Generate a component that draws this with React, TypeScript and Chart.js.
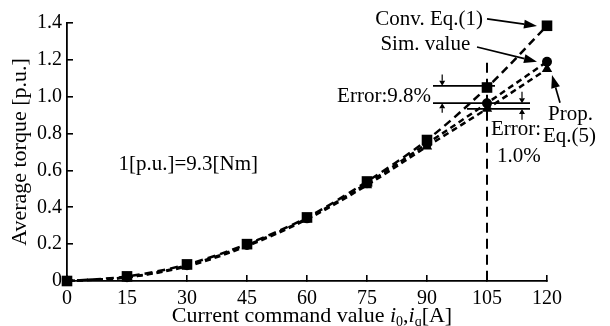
import React, { useEffect, useRef } from "react";
import { Chart, registerables } from "chart.js";

Chart.register(...registerables);

// ---- data ----
const currents = [0, 15, 30, 45, 60, 75, 90, 105, 120];
const convEq1 = [0, 0.025, 0.09, 0.2, 0.345, 0.54, 0.765, 1.05, 1.385];
const simValue = [0, 0.02, 0.085, 0.195, 0.34, 0.53, 0.745, 0.965, 1.19];
const propEq5 = [0, 0.02, 0.08, 0.19, 0.335, 0.52, 0.73, 0.935, 1.15];
const xTicks = [0, 15, 30, 45, 60, 75, 90, 105, 120];
const yTicks = [0, 0.2, 0.4, 0.6, 0.8, 1.0, 1.2, 1.4];

const FAMILY = '"Liberation Serif", "Times New Roman", serif';
const FONT = `21px ${FAMILY}`;

function arrow(ctx: CanvasRenderingContext2D, x1: number, y1: number, x2: number, y2: number, len: number, hw: number, lw: number) {
  const ang = Math.atan2(y2 - y1, x2 - x1);
  const bx = x2 - Math.cos(ang) * len;
  const by = y2 - Math.sin(ang) * len;
  ctx.lineWidth = lw;
  ctx.beginPath();
  ctx.moveTo(x1, y1);
  ctx.lineTo(bx, by);
  ctx.stroke();
  ctx.beginPath();
  ctx.moveTo(x2, y2);
  ctx.lineTo(bx + Math.sin(ang) * hw, by - Math.cos(ang) * hw);
  ctx.lineTo(bx - Math.sin(ang) * hw, by + Math.cos(ang) * hw);
  ctx.closePath();
  ctx.fill();
}

const annotPlugin = {
  id: "annot",
  afterDatasetsDraw(chart: any) {
    const { ctx, scales } = chart;
    const xs = scales.x;
    const ys = scales.y;
    const px = (v: number) => xs.getPixelForValue(v);
    const py = (v: number) => ys.getPixelForValue(v);
    ctx.save();
    ctx.strokeStyle = "#000";
    ctx.fillStyle = "#000";

    // vertical dashed line at 105 A
    ctx.setLineDash([10, 6]);
    ctx.lineWidth = 2;
    ctx.beginPath();
    ctx.moveTo(px(105), py(1.184));
    ctx.lineTo(px(105), py(0));
    ctx.stroke();
    ctx.setLineDash([]);

    // error reference lines
    const hline = (xa: number, xb: number, yv: number) => {
      ctx.lineWidth = 1.7;
      ctx.beginPath();
      ctx.moveTo(px(xa), py(yv));
      ctx.lineTo(px(xb), py(yv));
      ctx.stroke();
    };
    hline(91.5, 107, 1.059);
    hline(91.5, 115.75, 0.965);
    hline(100, 115.75, 0.934);

    // small error arrows
    arrow(ctx, px(93.8), py(1.12), px(93.8), py(1.059), 5, 3, 1.2);
    arrow(ctx, px(93.8), py(0.913), px(93.8), py(0.965), 5, 3, 1.2);
    arrow(ctx, px(113.75), py(1.027), px(113.75), py(0.965), 5, 3, 1.2);
    arrow(ctx, px(113.75), py(0.875), px(113.75), py(0.934), 5, 3, 1.2);

    // label arrows
    arrow(ctx, px(105), py(1.422), px(117.5), py(1.384), 13, 4.5, 1.7);
    arrow(ctx, px(102.5), py(1.27), px(117.5), py(1.19), 13, 4.5, 1.7);
    arrow(ctx, px(123.25), py(0.967), px(121.25), py(1.118), 13, 4.5, 1.7);

    // texts
    ctx.font = FONT;
    ctx.textBaseline = "middle";
    ctx.textAlign = "right";
    ctx.fillText("Conv. Eq.(1)", px(104), py(1.417));
    ctx.fillText("Sim. value", px(100.8), py(1.281));
    ctx.fillText("Error:9.8%", px(91), py(0.999));
    ctx.textAlign = "left";
    ctx.fillText("Error:", px(106), py(0.82));
    ctx.fillText("1.0%", px(107.5), py(0.674));
    ctx.fillText("Prop.", px(120.25), py(0.902));
    ctx.fillText("Eq.(5)", px(119), py(0.783));
    ctx.fillText("1[p.u.]=9.3[Nm]", px(12.86), py(0.631));

    // x axis title with italic subscripts
    const segs = [
      { t: "Current command value ", f: `22px ${FAMILY}`, dy: 0 },
      { t: "i", f: `italic 22px ${FAMILY}`, dy: 0 },
      { t: "0", f: `14px ${FAMILY}`, dy: 4 },
      { t: ",", f: `22px ${FAMILY}`, dy: 0 },
      { t: "i", f: `italic 22px ${FAMILY}`, dy: 0 },
      { t: "q", f: `14px ${FAMILY}`, dy: 4 },
      { t: "[A]", f: `22px ${FAMILY}`, dy: 0 },
    ];
    let total = 0;
    for (const s of segs) {
      ctx.font = s.f;
      total += ctx.measureText(s.t).width;
    }
    const cx = (xs.left + xs.right) / 2 + 5;
    let x = cx - total / 2;
    const base = chart.height - 4;
    ctx.textBaseline = "alphabetic";
    ctx.textAlign = "left";
    for (const s of segs) {
      ctx.font = s.f;
      ctx.fillText(s.t, x, base + s.dy);
      x += ctx.measureText(s.t).width;
    }
    ctx.restore();
  },
};

export default function App() {
  const ref = useRef<HTMLCanvasElement | null>(null);

  useEffect(() => {
    if (!ref.current) return;
    const mk = (arr: number[]) => currents.map((c, i) => ({ x: c, y: arr[i] }));
    const common = {
      borderColor: "#000",
      backgroundColor: "#000",
      borderWidth: 2.5,
      pointBorderWidth: 0,
      cubicInterpolationMode: "monotone",
      fill: false,
      clip: false,
    };
    const chart = new Chart(ref.current, {
      type: "line",
      data: {
        datasets: [
          { ...common, label: "Conv. Eq.(1)", data: mk(convEq1), borderDash: [8, 5], pointStyle: "rect", pointRadius: 7.5 },
          { ...common, label: "Sim. value", data: mk(simValue), borderDash: [6, 4], pointStyle: "circle", pointRadius: 5 },
          { ...common, label: "Prop. Eq.(5)", data: mk(propEq5), borderDash: [6, 4], pointStyle: "triangle", pointRadius: 6 },
        ],
      },
      options: {
        animation: false,
        responsive: false,
        layout: { padding: { top: 23, right: 63, bottom: 0, left: 0 } },
        plugins: { legend: { display: false }, tooltip: { enabled: false } },
        scales: {
          x: {
            type: "linear",
            min: 0,
            max: 120,
            afterBuildTicks: (s: any) => {
              s.ticks = xTicks.map((v) => ({ value: v }));
            },
            afterFit: (s: any) => {
              s.height = 45;
            },
            border: { display: true, color: "#000", width: 1.8 },
            grid: { display: true, drawOnChartArea: false, drawTicks: true, tickLength: -6, color: "#000", lineWidth: 1.6 },
            ticks: { color: "#000", font: { family: FAMILY, size: 20 }, padding: 12, maxRotation: 0, autoSkip: false },
          },
          y: {
            type: "linear",
            min: 0,
            max: 1.4,
            afterBuildTicks: (s: any) => {
              s.ticks = yTicks.map((v) => ({ value: v }));
            },
            afterFit: (s: any) => {
              s.width = 67;
            },
            border: { display: true, color: "#000", width: 1.8 },
            grid: { display: true, drawOnChartArea: false, drawTicks: true, tickLength: -6, color: "#000", lineWidth: 1.6 },
            ticks: {
              color: "#000",
              font: { family: FAMILY, size: 20 },
              padding: 11,
              autoSkip: false,
              callback: (v: any) => (Number(v) === 0 ? "0" : Number(v).toFixed(1)),
            },
            title: {
              display: true,
              text: "Average torque [p.u.]",
              color: "#000",
              font: { family: FAMILY, size: 22 },
              padding: { top: 7, bottom: 0 },
            },
          },
        },
      },
      plugins: [annotPlugin],
    } as any);
    return () => chart.destroy();
  }, []);

  return (
    <div style={{ position: "absolute", left: 0, top: 0, width: 610, height: 326, background: "#fff" }}>
      <canvas ref={ref} width={610} height={326} style={{ display: "block", width: 610, height: 326 }} />
    </div>
  );
}
